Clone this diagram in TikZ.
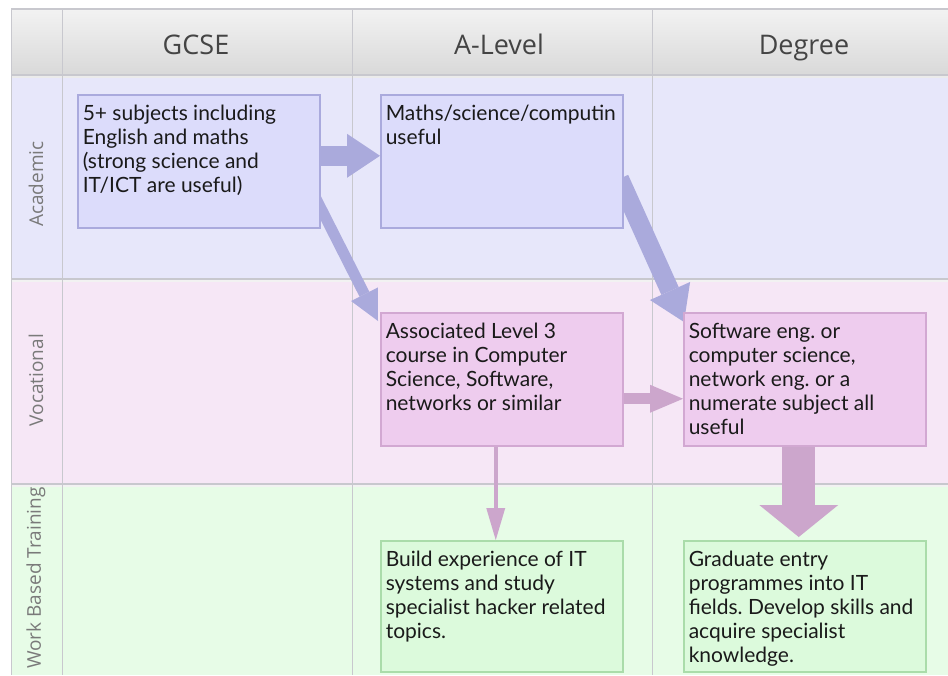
\documentclass[tikz,border=0pt]{standalone}
\usepackage{fontspec}
\newfontfamily\lato{Lato}
\newfontfamily\opensans{Open Sans}
\usetikzlibrary{arrows.meta}
\frenchspacing
\definecolor{acbg}{HTML}{E7E7FA}
\definecolor{acfill}{HTML}{DCDCFB}
\definecolor{acline}{HTML}{AAAADD}
\definecolor{acarrow}{HTML}{AAAADC}
\definecolor{vobg}{HTML}{F6E7F6}
\definecolor{vofill}{HTML}{EECCEE}
\definecolor{voline}{HTML}{D2A8D2}
\definecolor{voarrow}{HTML}{CCA6CC}
\definecolor{wobg}{HTML}{E7FCE7}
\definecolor{wofill}{HTML}{DCFADC}
\definecolor{woline}{HTML}{AADCAA}
\definecolor{gridline}{HTML}{C8C8CE}
\definecolor{headtext}{HTML}{444444}
\definecolor{rowtext}{HTML}{7A7A7A}
\definecolor{boxtext}{HTML}{1A1A1A}
\pgfdeclarelayer{bg}
\pgfdeclarelayer{arr}
\pgfsetlayers{bg,arr,main}
\tikzset{
  boxbase/.style={draw, line width=1.5pt, anchor=north west, inner xsep=5pt, inner ysep=9pt,
    font=\lato\fontsize{21}{24}\selectfont, text=boxtext},
  acbox/.style={boxbase, fill=acfill, draw=acline},
  vobox/.style={boxbase, fill=vofill, draw=voline},
  wobox/.style={boxbase, fill=wofill, draw=woline},
  headlab/.style={font=\opensans\fontsize{27}{30}\selectfont, text=headtext, inner sep=0pt, anchor=base},
  rowlab/.style={font=\opensans\fontsize{19}{22}\selectfont, text=rowtext, rotate=90, inner sep=0pt},
  gline/.style={draw=gridline, line width=1pt},
  hline/.style={draw=gridline, line width=1.5pt},
  flow/.style={line cap=butt},
}
\newcommand{\boxtxt}[2]{\parbox[t][#1][t]{232pt}{\raggedright\strut #2}}
\begin{document}
\begin{tikzpicture}[x=1pt,y=-1pt]
\useasboundingbox (0,0) rectangle (948,675);
\begin{pgfonlayer}{bg}
  \fill[white] (0,0) rectangle (948,675);
  \fill[acbg] (11,75) rectangle (948,279);
  \fill[vobg] (11,279) rectangle (948,484);
  \fill[wobg] (11,484) rectangle (948,675);
  \shade[top color=black!5, bottom color=black!15] (11,9) rectangle (948,75);
  \fill[black!8] (11,75) rectangle (948,78);
  \fill[black!5] (11,279) rectangle (948,282);
  \fill[black!5] (11,484) rectangle (948,487);
  \draw[hline] (11,9) -- (948,9);
  \draw[hline] (11,75) -- (948,75);
  \draw[hline] (11,279) -- (948,279);
  \draw[hline] (11,484) -- (948,484);
  \draw[gline] (11,9) -- (11,675);
  \draw[gline] (62,9) -- (62,675);
  \draw[gline] (352,9) -- (352,675);
  \draw[gline] (652,9) -- (652,675);
\end{pgfonlayer}

\node[headlab] (hgcse) at (196,54) {GCSE};
\node[headlab] (halevel) at (499,54) {A-Level};
\node[headlab] (hdegree) at (804,54) {Degree};

\node[rowlab] (racad) at (36,184) {Academic};
\node[rowlab] (rvoc) at (36,380) {Vocational};
\node[rowlab] (rwork) at (36,578) {Work Based Training};

\node[acbox] (gcse) at (77,94) {\boxtxt{115pt}{5+ subjects including\\English and maths\\(strong science and\\IT/ICT are useful)}};
\node[acbox] (maths) at (380,94) {\boxtxt{115pt}{Maths/science/computin\\useful}};
\node[vobox] (assoc) at (380,312) {\boxtxt{115pt}{Associated Level 3\\course in Computer\\Science, Software,\\networks or similar}};
\node[vobox] (soft) at (683,312) {\boxtxt{115pt}{Software eng. or\\computer science,\\network eng. or a\\numerate subject all\\useful}};
\node[wobox] (build) at (380,540) {\boxtxt{113pt}{Build experience of IT\\systems and study\\specialist hacker related\\topics.}};
\node[wobox] (grad) at (683,540) {\boxtxt{113pt}{Graduate entry\\programmes into IT\\fields. Develop skills and\\acquire specialist\\knowledge.}};

\begin{pgfonlayer}{arr}
  \coordinate (a1s) at ([xshift=-5pt,yshift=5.5pt]gcse.east);
  \draw[flow, acarrow, line width=20pt, -{Triangle[width=44pt,length=33pt,line width=0pt]}] (a1s) -- (a1s -| maths.west);
  \coordinate (a2s) at ([xshift=-6pt,yshift=-34.5pt]gcse.east);
  \coordinate (a2e) at ([xshift=-2pt,yshift=-9pt]assoc.north west);
  \draw[flow, acarrow, line width=11pt, -{Triangle[width=30pt,length=30pt,line width=0pt]}] (a2s) -- (a2e);
  \coordinate (a3s) at ([xshift=-4pt,yshift=-17.5pt]maths.east);
  \coordinate (a3e) at ([xshift=1pt,yshift=-10pt]soft.north west);
  \draw[flow, acarrow, line width=19pt, -{Triangle[width=44pt,length=34pt,line width=0pt]}] (a3s) -- (a3e);
  \coordinate (a4s) at ([yshift=-19.5pt]assoc.east);
  \draw[flow, voarrow, line width=11pt, -{Triangle[width=28pt,length=33pt,line width=0pt]}] (a4s) -- (a4s -| soft.west);
  \coordinate (a5s) at ([xshift=-6pt]assoc.south);
  \draw[flow, voarrow, line width=4pt, -{Triangle[width=19pt,length=32pt,line width=0pt]}] (a5s) -- (a5s |- build.north);
  \coordinate (a6s) at ([xshift=-6pt]soft.south);
  \draw[flow, voarrow, line width=33pt, -{Triangle[width=79pt,length=32pt,line width=0pt]}] (a6s) -- ([yshift=3pt]a6s |- grad.north);
\end{pgfonlayer}
\end{tikzpicture}
\end{document}
